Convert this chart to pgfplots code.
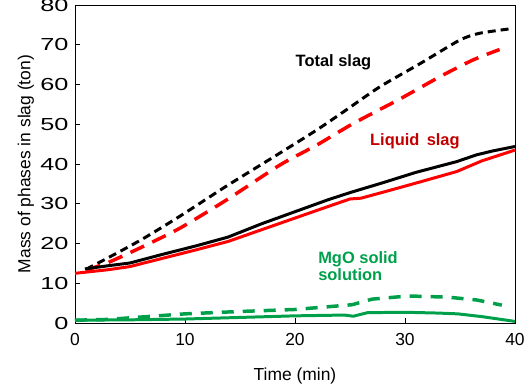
\documentclass[border=0pt]{standalone}
\usepackage{pgfplots}
\pgfplotsset{compat=1.18}
\usepackage{fontspec}
\setmainfont{Liberation Sans}
\definecolor{mgreen}{RGB}{0,160,75}
\definecolor{dred}{RGB}{192,0,0}
\begin{document}
\begin{tikzpicture}
\begin{axis}[
  scale only axis, width=440bp, height=318bp,
  xmin=0, xmax=40, ymin=0, ymax=80,
  xtick={0,10,20,30,40}, ytick={0,10,...,80},
  tick pos=left, tick align=inside,
  major tick length=5bp,
  axis line style={line width=1pt},
  every tick/.style={black, line width=0.8pt},
  tick label style={font=\fontsize{17.5}{20}\selectfont},
  yticklabel style={xscale=1.45, xshift=-1bp},
  xticklabel style={yshift=-7bp},
  /pgf/number format/assume math mode=true,
  xlabel={Time (min)}, ylabel={Mass of phases in slag (ton)},
  label style={font=\fontsize{17.5}{20}\selectfont},
  xlabel style={yshift=-15bp},
  ylabel style={yshift=-2bp},
  clip=false,
]
% Total slag dashed (black)
\addplot[black, line width=3pt, dash pattern=on 8bp off 5bp, smooth, tension=0.4] coordinates {
(1,13.5)(3,16.4)(6,20.9)(9.5,26.8)(13.8,34.5)(18.6,42.7)(22,48.6)(24.5,53.3)(27.7,59.4)(31.4,65.3)(35,71.2)(36.8,72.9)(39.8,74.1)};
% Liquid slag dashed (red)
\addplot[red, line width=3.5pt, dash pattern=on 15bp off 9bp, smooth, tension=0.4] coordinates {
(1,13.3)(3,15.2)(6,19)(9.5,23.8)(13.8,31)(18.6,39.7)(22,44.8)(25.3,50.2)(29.5,56.3)(33.2,62)(36.2,66.2)(38.6,68.8)};
% Black solid
\addplot[black, line width=3pt] coordinates {
(0.9,13.6)(3,14.4)(5,15.1)(8,17.3)(11,19.4)(13.9,21.6)(17,25)(20,28)(23,31)(25,32.8)(28,35.3)(31,37.9)(34.7,40.6)(36.5,42.3)(38,43.3)(40,44.4)};
% Red solid
\addplot[red, line width=3pt] coordinates {
(0,12.5)(3,13.4)(5,14.2)(8,16.3)(11,18.4)(13.9,20.5)(17,23.5)(20,26.4)(23,29.3)(25,31.2)(26,31.4)(28,32.9)(31,35.2)(34.7,38.1)(37,40.8)(40,43.5)};
% Green dashed
\addplot[mgreen, line width=3.5pt, dash pattern=on 12bp off 9bp] coordinates {
(0,0.7)(3,0.9)(5,1.3)(10,2.3)(15,2.9)(20,3.4)(25.2,4.6)(27,6)(30.3,6.8)(33.9,6.5)(36.5,5.8)(38.8,4.5)};
% Green solid
\addplot[mgreen, line width=3pt] coordinates {
(0,0.7)(5,0.8)(10,1.0)(15,1.4)(20,1.8)(24.5,2.0)(25.3,1.7)(26.6,2.6)(30,2.7)(33,2.5)(34.8,2.3)(37,1.6)(40,0.4)};
\node[font=\bfseries\fontsize{16.5}{18}\selectfont] at (axis cs:23.5,65.6) {Total slag};
\node[font=\bfseries\fontsize{16.5}{18}\selectfont, text=dred] at (axis cs:30.9,45.8) {Liquid\, slag};
\node[font=\bfseries\fontsize{16.5}{18}\selectfont, text=mgreen, align=left, anchor=west, inner sep=0pt] at (axis cs:22.1,14.2) {MgO solid\\[-1bp]solution};
\end{axis}
\pgfresetboundingbox
\path[use as bounding box] (-75bp,-62bp) rectangle (454bp,323bp);
\end{tikzpicture}
\end{document}
